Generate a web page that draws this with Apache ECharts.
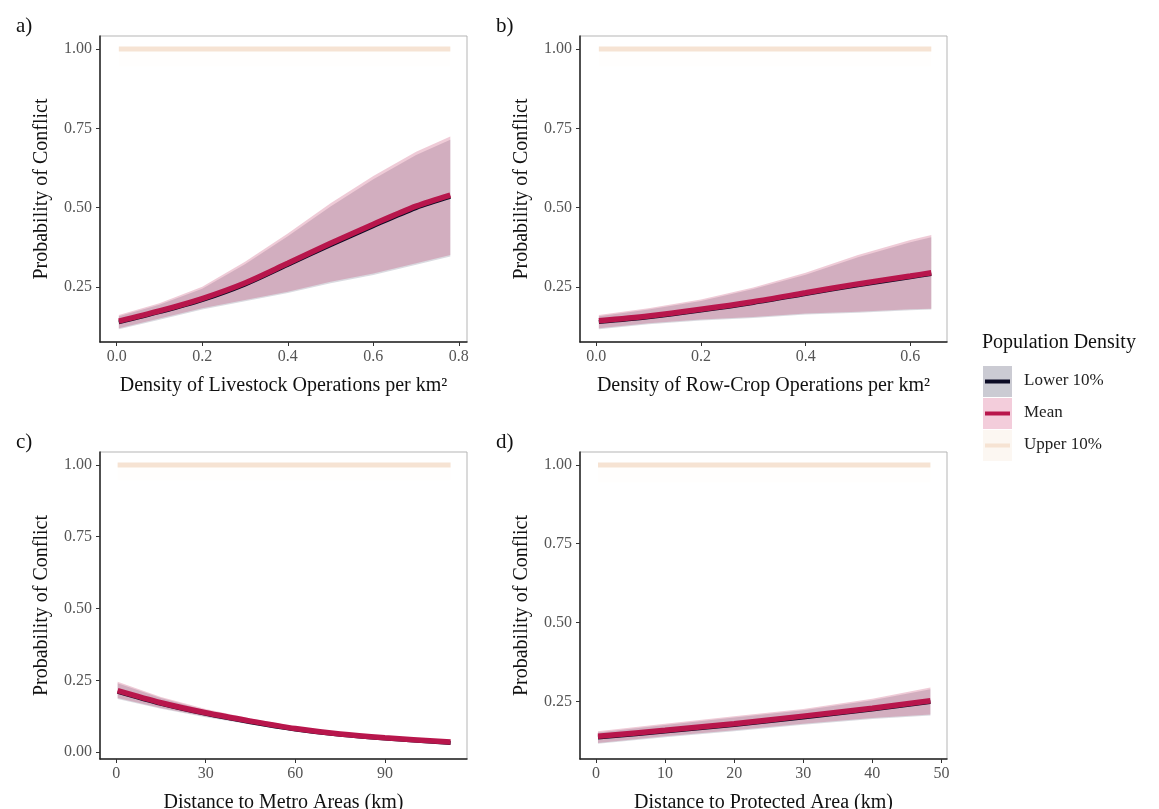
<!DOCTYPE html>
<html lang="en">
<head>
    <meta charset="UTF-8">
    <title>Probability of Conflict</title>
    <script src="https://cdn.jsdelivr.net/npm/echarts@6/dist/echarts.min.js"></script>
    <style>
        html, body { margin: 0; padding: 0; background: #fff; }
        #main { width: 1159px; height: 809px; }
    </style>
</head>
<body>
    <div id="main"></div>
    <script type="text/javascript">
        // panel a - livestock density
        const xA = [0.005, 0.1, 0.2, 0.3, 0.4, 0.5, 0.6, 0.7, 0.78];
        const meanA = [0.143, 0.175, 0.214, 0.263, 0.325, 0.388, 0.448, 0.505, 0.540];
        const meanLoA = [0.120, 0.151, 0.183, 0.209, 0.235, 0.267, 0.293, 0.325, 0.351];
        const meanHiA = [0.162, 0.199, 0.251, 0.330, 0.419, 0.514, 0.600, 0.676, 0.724];
        const lowerA = [0.139, 0.171, 0.209, 0.258, 0.320, 0.382, 0.442, 0.499, 0.534];
        const lowerLoA = [0.117, 0.147, 0.179, 0.205, 0.231, 0.262, 0.288, 0.320, 0.346];
        const lowerHiA = [0.158, 0.194, 0.245, 0.322, 0.410, 0.504, 0.590, 0.666, 0.714];

        // panel b - row-crop density
        const xB = [0.005, 0.1, 0.2, 0.3, 0.4, 0.5, 0.6, 0.64];
        const meanB = [0.144, 0.159, 0.180, 0.204, 0.232, 0.260, 0.285, 0.295];
        const meanLoB = [0.120, 0.136, 0.148, 0.156, 0.167, 0.172, 0.180, 0.182];
        const meanHiB = [0.162, 0.183, 0.211, 0.249, 0.295, 0.351, 0.398, 0.414];
        const lowerB = [0.140, 0.155, 0.176, 0.200, 0.228, 0.256, 0.281, 0.291];
        const lowerLoB = [0.117, 0.133, 0.145, 0.153, 0.164, 0.169, 0.177, 0.179];
        const lowerHiB = [0.158, 0.179, 0.206, 0.244, 0.289, 0.344, 0.391, 0.407];

        // panel c - distance to metro areas
        const xC = [0.5, 15, 30, 45, 60, 75, 90, 112];
        const meanC = [0.214, 0.172, 0.137, 0.108, 0.082, 0.063, 0.050, 0.035];
        const meanLoC = [0.188, 0.154, 0.124, 0.099, 0.076, 0.058, 0.046, 0.031];
        const meanHiC = [0.245, 0.192, 0.150, 0.117, 0.089, 0.068, 0.055, 0.040];
        const lowerC = [0.210, 0.168, 0.133, 0.104, 0.079, 0.060, 0.047, 0.032];
        const lowerLoC = [0.185, 0.151, 0.121, 0.096, 0.073, 0.055, 0.043, 0.029];
        const lowerHiC = [0.240, 0.188, 0.146, 0.113, 0.086, 0.065, 0.052, 0.037];

        // panel d - distance to protected area
        const xD = [0.3, 10, 20, 30, 40, 48.4];
        const meanD = [0.139, 0.158, 0.179, 0.203, 0.228, 0.252];
        const meanLoD = [0.118, 0.139, 0.158, 0.179, 0.197, 0.208];
        const meanHiD = [0.155, 0.179, 0.203, 0.226, 0.258, 0.294];
        const lowerD = [0.135, 0.154, 0.175, 0.199, 0.224, 0.248];
        const lowerLoD = [0.115, 0.136, 0.155, 0.176, 0.194, 0.205];
        const lowerHiD = [0.151, 0.175, 0.199, 0.222, 0.253, 0.288];

        // upper 10% population density sits at 1 everywhere
        const upperFit = 1.0;
        const upperLo = 0.945;

        const xTicksA = [0, 0.2, 0.4, 0.6, 0.8];
        const xTicksB = [0, 0.2, 0.4, 0.6];
        const xTicksC = [0, 30, 60, 90];
        const xTicksD = [0, 10, 20, 30, 40, 50];
        const yTicks = [0.25, 0.5, 0.75, 1.0];
        const yTicksC = [0, 0.25, 0.5, 0.75, 1.0];

        const tags = ['a)', 'b)', 'c)', 'd)'];
        const xNames = [
            'Density of Livestock Operations per km²',
            'Density of Row-Crop Operations per km²',
            'Distance to Metro Areas (km)',
            'Distance to Protected Area (km)'
        ];
        const legendNames = ['Lower 10%', 'Mean', 'Upper 10%'];

        const FONT = 'Liberation Serif';
        const C_LOWER = '#0b0b24';
        const C_MEAN = '#b8164c';
        const C_UPPER = '#f6e3d3';

        const panels = [
            { x: xA, mean: meanA, mLo: meanLoA, mHi: meanHiA, low: lowerA, lLo: lowerLoA, lHi: lowerHiA,
              xr: [-0.039, 0.819], yr: [0.077, 1.041], xt: xTicksA, yt: yTicks, dec: 1,
              grid: { left: 100, top: 36, width: 367, height: 306 } },
            { x: xB, mean: meanB, mLo: meanLoB, mHi: meanHiB, low: lowerB, lLo: lowerLoB, lHi: lowerHiB,
              xr: [-0.031, 0.670], yr: [0.077, 1.041], xt: xTicksB, yt: yTicks, dec: 1,
              grid: { left: 580, top: 36, width: 367, height: 306 } },
            { x: xC, mean: meanC, mLo: meanLoC, mHi: meanHiC, low: lowerC, lLo: lowerLoC, lHi: lowerHiC,
              xr: [-5.4, 117.5], yr: [-0.024, 1.045], xt: xTicksC, yt: yTicksC, dec: 0,
              grid: { left: 100, top: 452, width: 367, height: 307 } },
            { x: xD, mean: meanD, mLo: meanLoD, mHi: meanHiD, low: lowerD, lLo: lowerLoD, lHi: lowerHiD,
              xr: [-2.3, 50.8], yr: [0.067, 1.041], xt: xTicksD, yt: yTicks, dec: 0,
              grid: { left: 580, top: 452, width: 367, height: 307 } }
        ];

        // ribbon as one polygon through the axis scales
        function ribbon(i, xs, lo, hi, color) {
            const rows = xs.map(function (v, k) { return [v, lo[k], hi[k]]; });
            return {
                type: 'custom', xAxisIndex: i, yAxisIndex: i, silent: true,
                data: rows,
                encode: { x: 0, y: [1, 2] },
                renderItem: function (params, api) {
                    if (params.dataIndex !== 0) return null;
                    const top = rows.map(function (r) { return api.coord([r[0], r[2]]); });
                    const bot = rows.map(function (r) { return api.coord([r[0], r[1]]); }).reverse();
                    return {
                        type: 'polygon',
                        shape: { points: top.concat(bot) },
                        style: { fill: color, stroke: null }
                    };
                }
            };
        }

        function fitLine(i, xs, ys, color, width) {
            return {
                type: 'line', xAxisIndex: i, yAxisIndex: i,
                data: xs.map(function (v, k) { return [v, ys[k]]; }),
                symbol: 'none', smooth: 0.3, silent: true,
                lineStyle: { color: color, width: width, cap: 'butt' }
            };
        }

        const grids = [], xAxes = [], yAxes = [], series = [], titles = [];
        panels.forEach(function (p, i) {
            grids.push(Object.assign({
                show: true, borderColor: '#b5b5b5', borderWidth: 1, backgroundColor: 'transparent',
                containLabel: false, outerBoundsMode: 'none'
            }, p.grid));
            xAxes.push({
                type: 'value', gridIndex: i, min: p.xr[0], max: p.xr[1],
                name: xNames[i], nameLocation: 'middle', nameGap: 34,
                nameTextStyle: { fontFamily: FONT, fontSize: 20, color: '#111' },
                axisLine: { show: true, onZero: false, lineStyle: { color: '#222', width: 1.5 } },
                axisTick: { show: true, length: 4, lineStyle: { color: '#333' }, customValues: p.xt },
                axisLabel: {
                    fontFamily: FONT, fontSize: 16, color: '#555', margin: 7, customValues: p.xt,
                    formatter: function (v) { return v.toFixed(p.dec); }
                },
                splitLine: { show: false }
            });
            yAxes.push({
                type: 'value', gridIndex: i, min: p.yr[0], max: p.yr[1],
                name: 'Probability of Conflict', nameLocation: 'middle', nameGap: 48,
                nameTextStyle: { fontFamily: FONT, fontSize: 20, color: '#111' },
                axisLine: { show: true, onZero: false, lineStyle: { color: '#222', width: 1.5 } },
                axisTick: { show: true, length: 4, lineStyle: { color: '#333' }, customValues: p.yt },
                axisLabel: {
                    fontFamily: FONT, fontSize: 16, color: '#555', margin: 8, customValues: p.yt,
                    formatter: function (v) { return v.toFixed(2); }
                },
                splitLine: { show: false }
            });

            const ones = p.x.map(function () { return upperFit; });
            const onesLo = p.x.map(function () { return upperLo; });
            series.push(ribbon(i, p.x, p.lLo, p.lHi, 'rgba(25,25,60,0.16)'));
            series.push(ribbon(i, p.x, p.mLo, p.mHi, 'rgba(185,30,80,0.23)'));
            series.push(ribbon(i, p.x, onesLo, ones, 'rgba(245,215,190,0.035)'));
            series.push(fitLine(i, p.x, p.low, C_LOWER, 4));
            series.push(fitLine(i, p.x, p.mean, C_MEAN, 5.5));
            series.push(fitLine(i, p.x, ones, C_UPPER, 5));

            titles.push({
                text: tags[i], left: p.grid.left - 89, top: p.grid.top - 25,
                textStyle: { fontFamily: FONT, fontSize: 21, fontWeight: 'normal', color: '#111' }
            });
        });

        // legend drawn as ggplot-style key boxes
        const keyFill = ['#cbcbd3', '#f3cddb', '#fcf7f2'];
        const keyLine = [C_LOWER, C_MEAN, C_UPPER];
        const graphics = [{
            type: 'text', left: 982, top: 333,
            style: { text: 'Population Density', fontFamily: FONT, fontSize: 20, fill: '#111' }
        }];
        legendNames.forEach(function (n, k) {
            const y0 = 366 + k * 32;
            graphics.push({ type: 'rect', shape: { x: 983, y: y0, width: 29, height: 31 }, style: { fill: keyFill[k] } });
            graphics.push({ type: 'line', shape: { x1: 985, y1: y0 + 15.5, x2: 1010, y2: y0 + 15.5 },
                style: { stroke: keyLine[k], lineWidth: 4 } });
            graphics.push({ type: 'text', left: 1024, top: y0 + 6,
                style: { text: n, fontFamily: FONT, fontSize: 17, fill: '#222' } });
        });

        const chart = echarts.init(document.getElementById('main'));
        chart.setOption({
            backgroundColor: '#fff',
            animation: false,
            title: titles,
            grid: grids,
            xAxis: xAxes,
            yAxis: yAxes,
            series: series,
            graphic: graphics
        });
    </script>
</body>
</html>
